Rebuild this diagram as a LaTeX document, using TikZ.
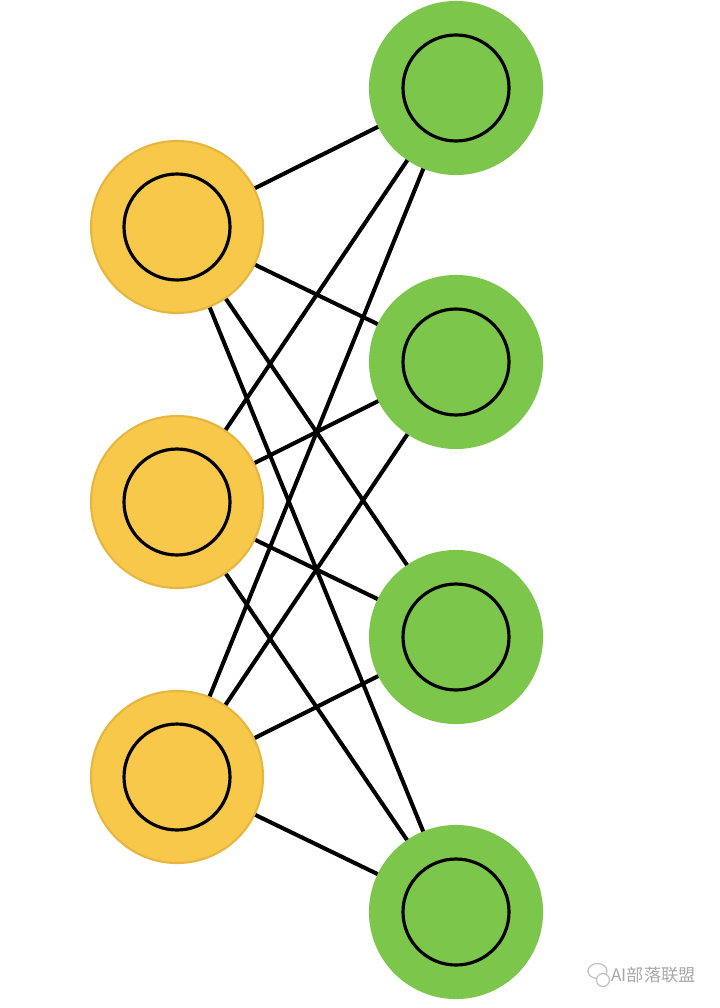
\documentclass[tikz,border=0pt]{standalone}
\usepackage{fontspec}
\newfontfamily\cjkfont{Noto Sans CJK SC}
\usepackage{tikz}
\usetikzlibrary{positioning,shapes.geometric}

\definecolor{unitYellow}{HTML}{F8C84B}
\definecolor{unitYellowRim}{HTML}{E6B63E}
\definecolor{unitGreen}{HTML}{7DC64C}
\definecolor{markGray}{HTML}{A8A8A8}

\begin{document}
\begin{tikzpicture}[
  % units
  inUnit/.style={circle, fill=unitYellow, draw=unitYellowRim, line width=0.6pt,
                 minimum size=1.72cm, inner sep=0pt,
                 path picture={\draw[black, line width=0.9pt]
                   (path picture bounding box.center) circle (0.53);}},
  outUnit/.style={circle, fill=unitGreen, draw=unitGreen, line width=0.6pt,
                  minimum size=1.72cm, inner sep=0pt,
                  path picture={\draw[black, line width=0.9pt]
                    (path picture bounding box.center) circle (0.53);}},
  % weights
  wt/.style={black, line width=1.15pt},
  % watermark
  wmark/.style={text=markGray, font=\cjkfont\fontsize{4.9pt}{5pt}\selectfont, inner sep=0pt},
  bubble/.style={draw=markGray!70, line width=0.35pt},
]

% ── Canvas ───────────────────────────────────────────────────────────────
\useasboundingbox[fill=white] (0,0) rectangle (7.2,-10.08);

% ── Column X positions ───────────────────────────────────────────────────
\def\xI{1.77}   % input layer
\def\xO{4.56}   % output layer

% ── Input layer ──────────────────────────────────────────────────────────
\node[inUnit] (in1) at (\xI,-2.27) {};
\node[inUnit] (in2) at (\xI,-5.02) {};
\node[inUnit] (in3) at (\xI,-7.77) {};

% ── Output layer ─────────────────────────────────────────────────────────
\node[outUnit] (out1) at (\xO,-0.88) {};
\node[outUnit] (out2) at (\xO,-3.62) {};
\node[outUnit] (out3) at (\xO,-6.37) {};
\node[outUnit] (out4) at (\xO,-9.12) {};

% ── Weights ──────────────────────────────────────────────────────────────
\draw[wt] (in1) -- (out1);
\draw[wt] (in1) -- (out2);
\draw[wt] (in1) -- (out3);
\draw[wt] (in1) -- (out4);

\draw[wt] (in2) -- (out1);
\draw[wt] (in2) -- (out2);
\draw[wt] (in2) -- (out3);
\draw[wt] (in2) -- (out4);

\draw[wt] (in3) -- (out1);
\draw[wt] (in3) -- (out2);
\draw[wt] (in3) -- (out3);
\draw[wt] (in3) -- (out4);

% ── Watermark ────────────────────────────────────────────────────────────
\node[wmark] (mark) at (6.535,-9.75) {AI部落联盟};
\node[bubble, ellipse, minimum width=0.19cm, minimum height=0.15cm, inner sep=0pt,
      left=0.03cm of mark.west, yshift=0.04cm] (bubA) {};
\node[bubble, circle, minimum size=0.13cm, inner sep=0pt,
      left=0.005cm of mark.west, yshift=-0.05cm, fill=white] (bubB) {};

\end{tikzpicture}
\end{document}
